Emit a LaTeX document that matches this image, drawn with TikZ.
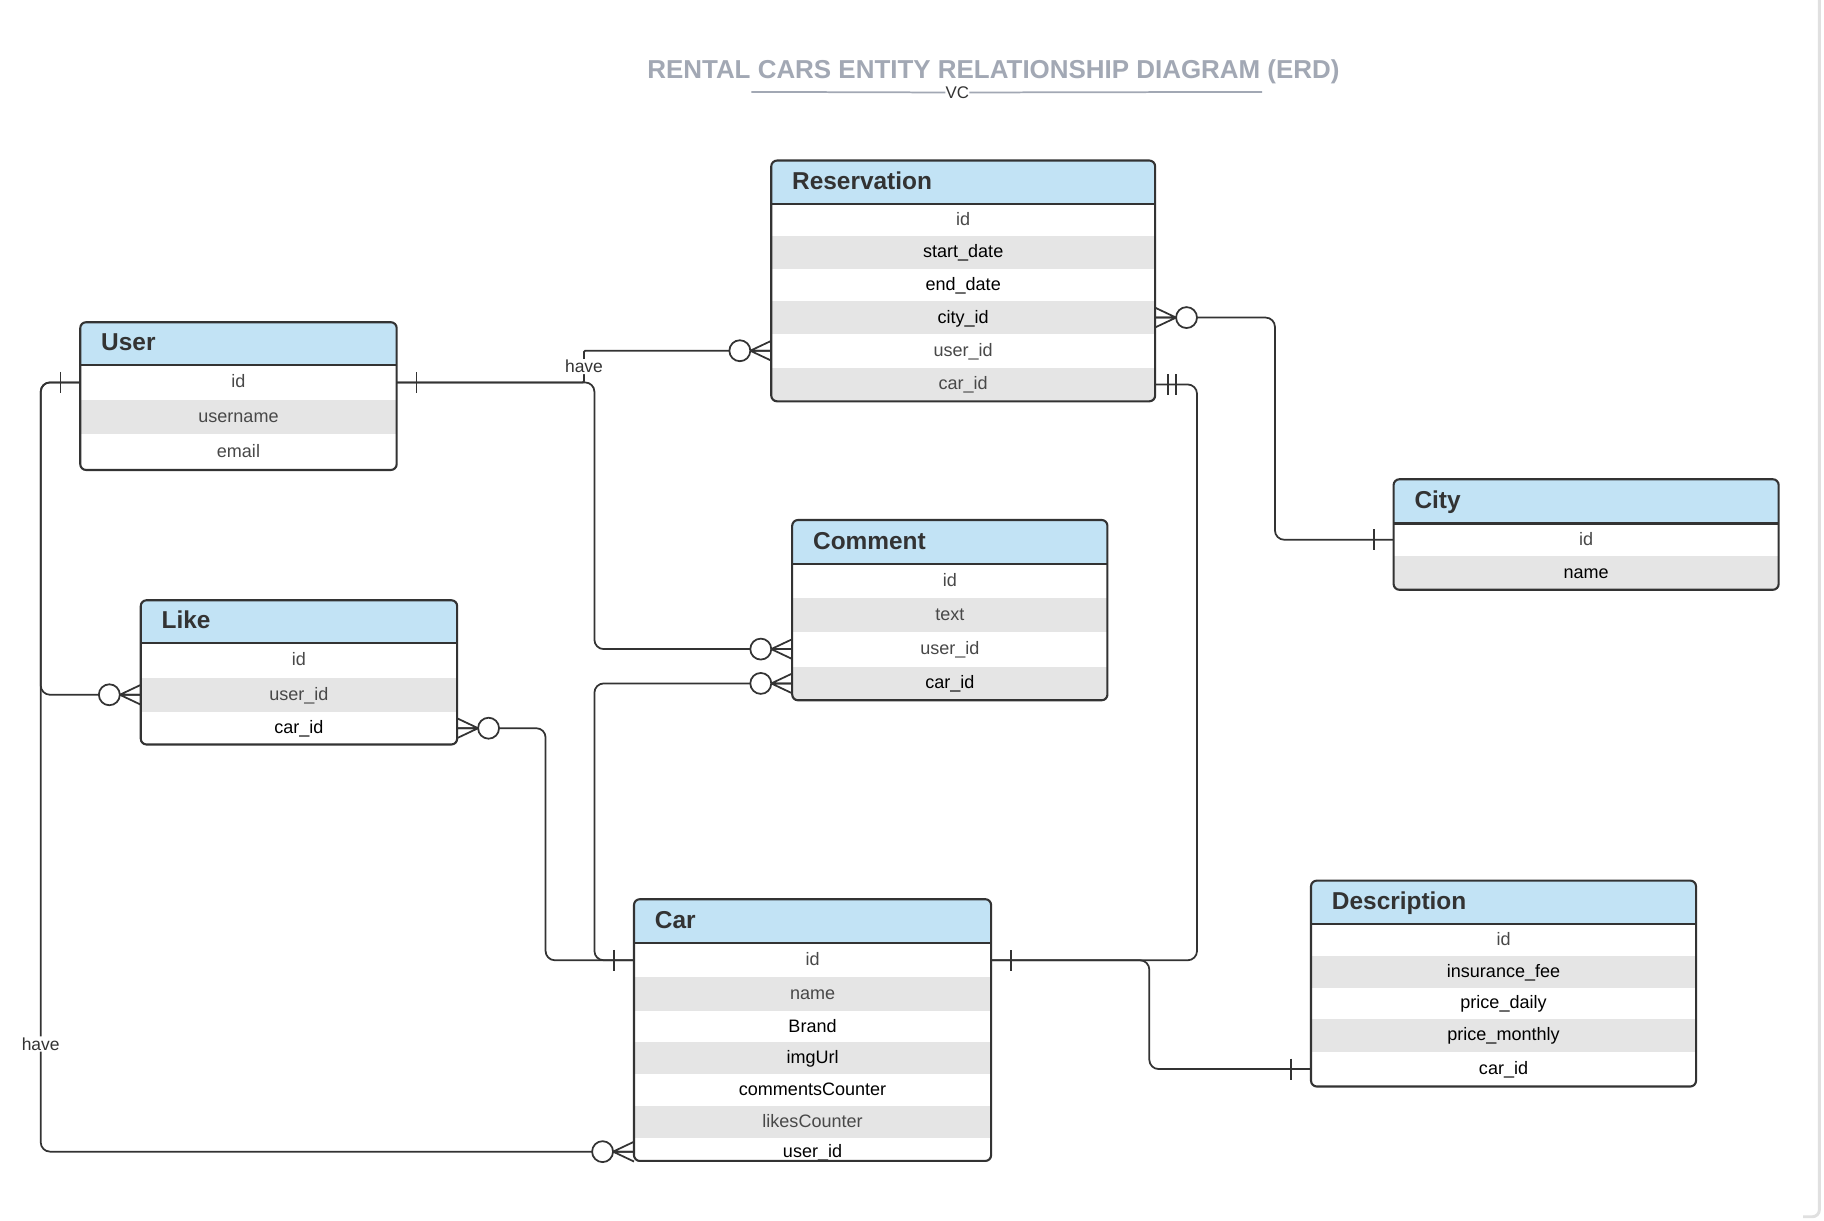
\documentclass[tikz,border=0pt]{standalone}
\usepackage{fontspec}
\setmainfont{Liberation Sans}
\usetikzlibrary{calc}
\definecolor{hdrblue}{RGB}{194,227,245}
\definecolor{rowgrey}{RGB}{229,229,229}
\definecolor{edge}{RGB}{51,51,51}
\definecolor{ttl}{RGB}{162,168,180}
\definecolor{fldgrey}{RGB}{72,72,72}
\tikzset{
  ent/.style={draw=edge, line width=1.8pt, rounded corners=5pt},
  hdr/.style={fill=hdrblue, inner ysep=0pt, inner xsep=18pt, outer sep=0pt, anchor=north west, align=left,
    font=\fontsize{21}{24}\selectfont\bfseries, text=edge, text height=15.5pt, text depth=3.5pt},
  fld/.style={inner sep=0pt, outer sep=0pt, anchor=north west, font=\fontsize{15.5}{18}\selectfont,
    text height=12.5pt, text depth=3pt},
  wr/.style={fill=white},
  gr/.style={fill=rowgrey},
  conn/.style={draw=edge, line width=1.5pt, rounded corners=8pt},
  lbl/.style={fill=white, inner sep=1pt, font=\fontsize{15}{17}\selectfont, text=edge},
  zmany/.pic={\draw[edge, line width=1.5pt] (-18,0) -- (0,8.5) (-18,0) -- (0,0) (-18,0) -- (0,-8.5);
              \draw[edge, line width=1.5pt, fill=white] (-27,0) circle (9);},
  onetick/.pic={\draw[edge, line width=1.5pt] (-17,-9) -- (-17,9);},
  twotick/.pic={\draw[edge, line width=1.5pt] (-11,-9) -- (-11,9) (-18,-9) -- (-18,9);},
}
% name, x, ytop, width, height, fillstyle, textcolor, text
\newcommand\fld[8]{\node[fld,#6,text=#7,minimum width=#4pt,minimum height=#5pt] (#1) at (#2,#3) {#8};}
% name, x, ytop, width, height, textwidth, text
\newcommand\hdrbox[7]{\node[hdr,minimum width=#4pt,minimum height=#5pt,text width=#6pt] (#1) at (#2,#3) {#7};}
\newcommand\entframe[5]{%
  \draw[ent] (#1,#2) rectangle (#3,#4);
  \draw[edge, line width=1.8pt] (#5.south west) -- (#5.south east);}

\begin{document}
\begin{tikzpicture}[x=1pt,y=-1pt]
\useasboundingbox (0,0) rectangle (1568,1048.8);
\fill[white] (0,0) rectangle (1568,1048.8);
\draw[black!12, line width=2.5pt, rounded corners=6pt] (1564,-5) -- (1564,1046) -- (1550,1046);

% Title
\node[font=\fontsize{22.3}{26}\selectfont\bfseries, text=ttl, inner sep=0pt] (title) at (854,62) {RENTAL CARS ENTITY RELATIONSHIP DIAGRAM (ERD)};
\node[font=\fontsize{14.5}{16}\selectfont, text=edge, inner sep=0pt] (vc) at (823,79.5) {VC};
\draw[ttl, line width=1.5pt] (646,79) -- (vc.west);
\draw[ttl, line width=1.5pt] (vc.east) -- (1085,79);

% User
\begin{scope}
\clip[rounded corners=5pt] (69,277) rectangle (341,404);
\hdrbox{user}{69}{277}{272}{37}{236}{User}
\fld{user-id}{69}{314}{272}{29.5}{wr}{fldgrey}{id}
\fld{user-name}{69}{343.5}{272}{30}{gr}{fldgrey}{username}
\fld{user-email}{69}{373.5}{272}{30.5}{wr}{fldgrey}{email}
\end{scope}
\entframe{69}{277}{341}{404}{user}

% Like
\begin{scope}
\clip[rounded corners=5pt] (121,516) rectangle (393,640);
\hdrbox{like}{121}{516}{272}{37}{236}{Like}
\fld{like-id}{121}{553}{272}{29.5}{wr}{fldgrey}{id}
\fld{like-user}{121}{582.5}{272}{29.5}{gr}{fldgrey}{user\_id}
\fld{like-car}{121}{612}{272}{28}{wr}{black}{car\_id}
\end{scope}
\entframe{121}{516}{393}{640}{like}

% Reservation
\begin{scope}
\clip[rounded corners=5pt] (663,138) rectangle (993,345);
\hdrbox{res}{663}{138}{330}{37}{294}{Reservation}
\fld{res-id}{663}{175}{330}{28}{wr}{fldgrey}{id}
\fld{res-start}{663}{203}{330}{28}{gr}{black}{start\_date}
\fld{res-end}{663}{231}{330}{28}{wr}{black}{end\_date}
\fld{res-city}{663}{259}{330}{28}{gr}{black}{city\_id}
\fld{res-user}{663}{287}{330}{29}{wr}{fldgrey}{user\_id}
\fld{res-car}{663}{316}{330}{29}{gr}{fldgrey}{car\_id}
\end{scope}
\entframe{663}{138}{993}{345}{res}

% Comment
\begin{scope}
\clip[rounded corners=5pt] (681,447) rectangle (952,602);
\hdrbox{com}{681}{447}{271}{38}{235}{Comment}
\fld{com-id}{681}{485}{271}{29}{wr}{fldgrey}{id}
\fld{com-text}{681}{514}{271}{29}{gr}{fldgrey}{text}
\fld{com-user}{681}{543}{271}{30}{wr}{fldgrey}{user\_id}
\fld{com-car}{681}{573}{271}{29}{gr}{black}{car\_id}
\end{scope}
\entframe{681}{447}{952}{602}{com}

% City
\begin{scope}
\clip[rounded corners=5pt] (1198,412) rectangle (1529,507);
\hdrbox{city}{1198}{412}{331}{38}{295}{City}
\fld{city-id}{1198}{450}{331}{28}{wr}{fldgrey}{id}
\fld{city-name}{1198}{478}{331}{29}{gr}{black}{name}
\end{scope}
\entframe{1198}{412}{1529}{507}{city}

% Car
\begin{scope}
\clip[rounded corners=5pt] (545,773) rectangle (852,998);
\hdrbox{car}{545}{773}{307}{38}{271}{Car}
\fld{car-id}{545}{811}{307}{29}{wr}{fldgrey}{id}
\fld{car-name}{545}{840}{307}{29}{gr}{fldgrey}{name}
\fld{car-brand}{545}{869}{307}{27}{wr}{black}{Brand}
\fld{car-img}{545}{896}{307}{27}{gr}{black}{imgUrl}
\fld{car-com}{545}{923}{307}{28}{wr}{black}{commentsCounter}
\fld{car-likes}{545}{951}{307}{27}{gr}{fldgrey}{likesCounter}
\fld{car-user}{545}{978}{307}{24}{wr}{black}{user\_id}
\end{scope}
\entframe{545}{773}{852}{998}{car}

% Description
\begin{scope}
\clip[rounded corners=5pt] (1127,757) rectangle (1458,934);
\hdrbox{desc}{1127}{757}{331}{37}{295}{Description}
\fld{desc-id}{1127}{794}{331}{28}{wr}{fldgrey}{id}
\fld{desc-ins}{1127}{822}{331}{27}{gr}{black}{insurance\_fee}
\fld{desc-daily}{1127}{849}{331}{27}{wr}{black}{price\_daily}
\fld{desc-monthly}{1127}{876}{331}{28}{gr}{black}{price\_monthly}
\fld{desc-car}{1127}{904}{331}{30}{wr}{black}{car\_id}
\end{scope}
\entframe{1127}{757}{1458}{934}{desc}

% Connectors
\draw[conn, rounded corners=1pt] (user-id.east) -- ++(161,0) |- node[lbl, pos=0.25] {have} (res-user.west);
\draw[conn] (user-id.east) -- ++(170,0) |- (com-user.west);
\draw[conn] (user-id.west) -- ++(-34,0) |- (like-user.west);
\draw[conn] (user-id.west) -- ++(-34,0) |- node[lbl, pos=0.43] {have} (car-user.west);
\draw[conn] (res-city.east) -- ++(103,0) |- (city-id.west);
\draw[conn] (res-car.east) -- ++(36,0) |- (car-id.east);
\draw[conn] (car-id.east) -- ++(136,0) |- (desc-car.west);
\draw[conn] (like-car.east) -- ++(76,0) |- (car-id.west);
\draw[conn] (com-car.west) -- ++(-170,0) |- (car-id.west);

% End marks
\pic[rotate=180] at (user-id.east) {onetick};
\pic at (user-id.west) {onetick};
\pic at (res-user.west) {zmany};
\pic at (com-user.west) {zmany};
\pic at (com-car.west) {zmany};
\pic at (like-user.west) {zmany};
\pic[rotate=180] at (like-car.east) {zmany};
\pic at (car-user.west) {zmany};
\pic[rotate=180] at (res-city.east) {zmany};
\pic at (city-id.west) {onetick};
\pic[rotate=180] at (res-car.east) {twotick};
\pic[rotate=180] at (car-id.east) {onetick};
\pic at (car-id.west) {onetick};
\pic at (desc-car.west) {onetick};
\end{tikzpicture}
\end{document}
